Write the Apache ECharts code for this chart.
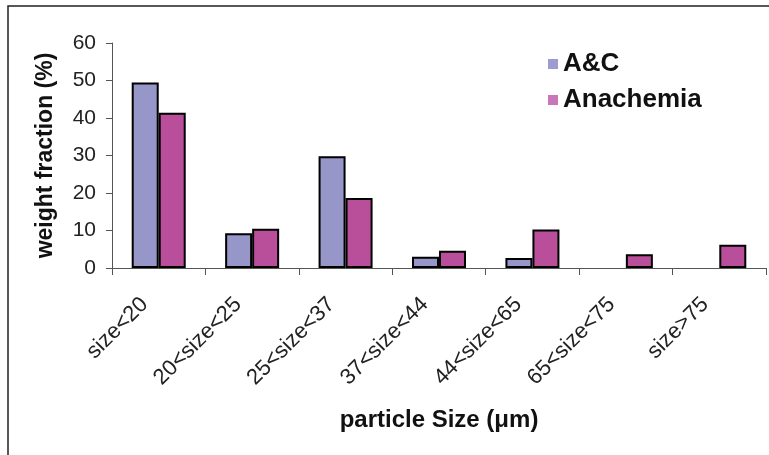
<!DOCTYPE html>
<html>
<head>
<meta charset="utf-8">
<script src="https://cdn.jsdelivr.net/npm/echarts@6/dist/echarts.min.js"></script>
<style>
  html, body { margin: 0; padding: 0; background: #fff; }
  #chart { width: 769px; height: 455px; }
</style>
</head>
<body>
<div id="chart"></div>
<script>
// particle size classes
const categories = ['size<20', '20<size<25', '25<size<37', '37<size<44', '44<size<65', '65<size<75', 'size>75'];
// weight fraction (%) per class
const acValues = [49.5, 9.3, 29.8, 3.0, 2.7, null, null];
const anachemiaValues = [41.4, 10.5, 18.7, 4.6, 10.3, 3.7, 6.2];
const yTicks = [0, 10, 20, 30, 40, 50, 60];

const chart = echarts.init(document.getElementById('chart'));
const font = '"Liberation Sans", Arial, sans-serif';

const option = {
  animation: false,
  graphic: [{
    type: 'rect',
    shape: { x: 8, y: 6, width: 900, height: 600 },
    style: { fill: 'none', stroke: '#222', lineWidth: 1.5 },
    silent: true
  }],
  legend: {
    orient: 'vertical',
    left: 543,
    top: 46,
    icon: 'rect',
    itemWidth: 10,
    itemHeight: 10,
    itemGap: 10,
    textStyle: { fontFamily: font, fontSize: 26, fontWeight: 'bold', color: '#111' },
    data: [
      { name: 'A&C', itemStyle: { color: '#9c9cd0', borderWidth: 0 } },
      { name: 'Anachemia', itemStyle: { color: '#c878b8', borderWidth: 0 } }
    ]
  },
  grid: { left: 112, right: 3, top: 43, bottom: 187 },
  xAxis: {
    type: 'category',
    data: categories,
    name: 'particle Size (\u03bcm)',
    nameLocation: 'middle',
    nameGap: 140,
    nameTextStyle: { fontFamily: font, fontSize: 24, fontWeight: 'bold', color: '#111' },
    axisLine: { lineStyle: { color: '#555', width: 1 } },
    axisTick: { show: true, length: 7, lineStyle: { color: '#555' } },
    axisLabel: {
      rotate: 45,
      interval: 0,
      margin: 19,
      padding: [0, 20, 0, 0],
      fontFamily: font,
      fontSize: 22,
      color: '#222'
    }
  },
  yAxis: {
    type: 'value',
    min: 0,
    max: 60,
    interval: 10,
    name: 'weight fraction (%)',
    nameLocation: 'middle',
    nameGap: 55,
    nameRotate: 90,
    nameTextStyle: { fontFamily: font, fontSize: 23, fontWeight: 'bold', color: '#111' },
    axisLine: { show: true, lineStyle: { color: '#555', width: 1 } },
    axisTick: { show: true, length: 6, lineStyle: { color: '#555' } },
    splitLine: { show: false },
    axisLabel: {
      margin: 16,
      fontFamily: font,
      fontSize: 21,
      color: '#222',
      formatter: v => (yTicks.includes(v) ? String(v) : '')
    }
  },
  series: [
    {
      name: 'A&C',
      type: 'bar',
      data: acValues,
      barWidth: 27,
      barGap: '0%',
      itemStyle: { color: '#9696c8', borderColor: '#000', borderWidth: 2 }
    },
    {
      name: 'Anachemia',
      type: 'bar',
      data: anachemiaValues,
      barWidth: 27,
      barGap: '0%',
      itemStyle: { color: '#b94f9b', borderColor: '#000', borderWidth: 2 }
    }
  ]
};

chart.setOption(option);
</script>
</body>
</html>
